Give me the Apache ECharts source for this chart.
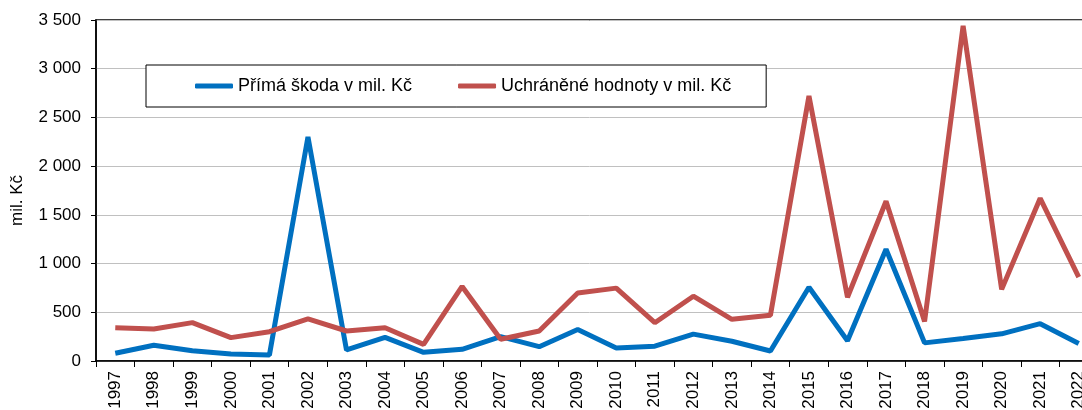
<!DOCTYPE html>
<html>
<head>
<meta charset="utf-8">
<script src="https://cdn.jsdelivr.net/npm/echarts@6/dist/echarts.min.js"></script>
<style>
  html, body { margin: 0; padding: 0; background: #fff; }
  #chart { width: 1082px; height: 410px; }
</style>
</head>
<body>
<div id="chart"></div>
<script>
// roky
const years = ['1997', '1998', '1999', '2000', '2001', '2002', '2003', '2004', '2005', '2006',
  '2007', '2008', '2009', '2010', '2011', '2012', '2013', '2014', '2015', '2016',
  '2017', '2018', '2019', '2020', '2021', '2022'];
// přímá škoda v mil. Kč
const primaSkoda = [80, 162, 105, 72, 62, 2300, 113, 243, 89, 120,
  250, 147, 324, 134, 152, 276, 203, 103, 757, 207,
  1147, 186, 231, 279, 383, 179];
// uchráněné hodnoty v mil. Kč
const uchraneneHodnoty = [342, 329, 394, 240, 301, 432, 308, 342, 171, 765,
  223, 308, 697, 748, 393, 665, 428, 469, 2720, 654,
  1640, 405, 3440, 735, 1670, 860];

const FONT = 'Liberation Sans, Arial, sans-serif';

function fmt (v) {
  return String(v).replace(/\B(?=(\d{3})+(?!\d))/g, ' ');
}

const chart = echarts.init(document.getElementById('chart'), null, { renderer: 'canvas' });

const option = {
  animation: false,
  color: ['#0070C0', '#C0504D'],
  // nadpis je v originále oříznutý, viditelné jsou jen dotahy písmen
  title: {
    text: 'Výše celkové vzniklé škody a uchráněné hodnoty',
    left: 440,
    top: -16,
    padding: 0,
    textStyle: { fontFamily: FONT, fontSize: 17, fontWeight: 'bold', color: '#000' }
  },
  grid: {
    left: 96,
    top: 20,
    bottom: 49,
    width: 1002,
    outerBoundsMode: 'none',
    containLabel: false,
    show: true,
    borderColor: '#000',
    borderWidth: 1.5
  },
  legend: {
    left: 146,
    top: 65,
    padding: [12, 35, 12, 49],
    itemGap: 46,
    itemWidth: 38,
    itemHeight: 5,
    icon: 'roundRect',
    borderColor: '#000',
    borderWidth: 1,
    backgroundColor: '#fff',
    z: 10,
    textStyle: { fontFamily: FONT, fontSize: 18, color: '#000' },
    data: ['Přímá škoda v mil. Kč', 'Uchráněné hodnoty v mil. Kč']
  },
  xAxis: {
    type: 'category',
    data: years,
    boundaryGap: true,
    axisLine: { lineStyle: { color: '#000', width: 1.5 } },
    axisTick: { show: true, length: 6, lineStyle: { color: '#000' } },
    axisLabel: {
      interval: 0,
      rotate: 90,
      margin: 10,
      fontFamily: FONT,
      fontSize: 17,
      color: '#000'
    }
  },
  yAxis: {
    type: 'value',
    min: 0,
    max: 3500,
    interval: 500,
    name: 'mil. Kč',
    nameLocation: 'middle',
    nameGap: 70,
    nameTextStyle: { fontFamily: FONT, fontSize: 17, color: '#000', padding: [0, 20, 0, 0] },
    axisLine: { show: true, lineStyle: { color: '#000', width: 1.5 } },
    axisTick: { show: true, length: 5, lineStyle: { color: '#000' } },
    axisLabel: {
      margin: 15,
      fontFamily: FONT,
      fontSize: 17,
      color: '#000',
      formatter: fmt
    },
    splitLine: { lineStyle: { color: '#c0c0c0', width: 1 } }
  },
  series: [{
    name: 'Přímá škoda v mil. Kč',
    type: 'line',
    showSymbol: false,
    lineStyle: { width: 5 },
    data: primaSkoda
  }, {
    name: 'Uchráněné hodnoty v mil. Kč',
    type: 'line',
    showSymbol: false,
    lineStyle: { width: 5 },
    data: uchraneneHodnoty
  }]
};

chart.setOption(option);
</script>
</body>
</html>
